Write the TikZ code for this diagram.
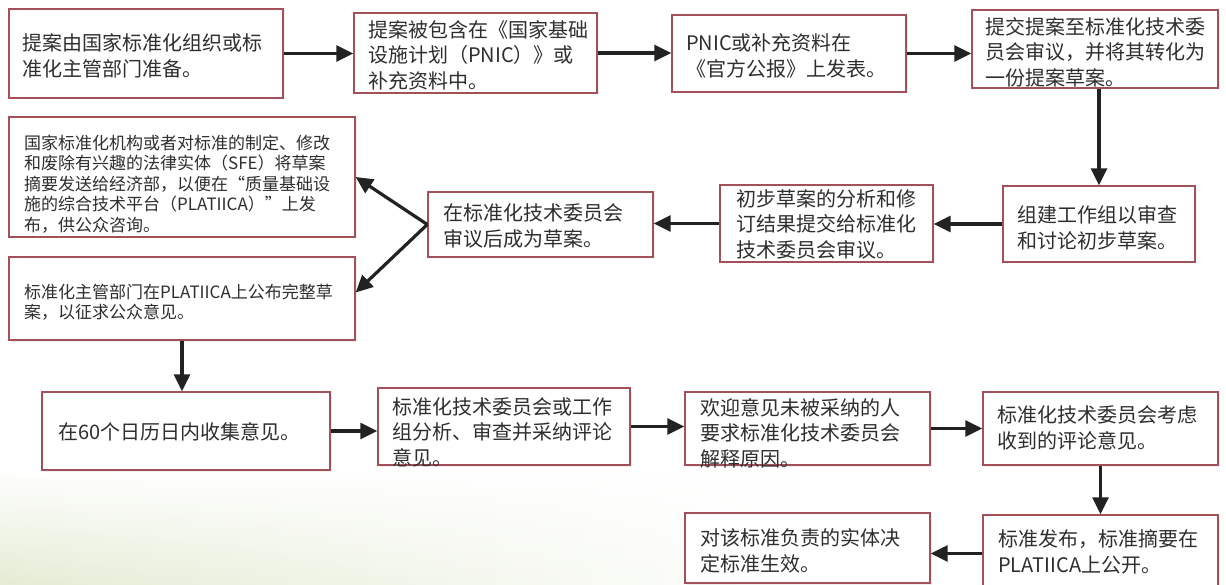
\documentclass[tikz,border=0pt]{standalone}
\usepackage{fontspec}
\setmainfont{Noto Sans CJK SC}
\usetikzlibrary{arrows.meta,calc,shadows,fadings}
\definecolor{bord}{HTML}{A4505A}
\definecolor{ink}{HTML}{2E2E2E}
\definecolor{arrc}{HTML}{222222}
\definecolor{tint}{RGB}{228,236,212}
\tikzset{
 bx/.style={draw=bord, line width=1.4pt, fill=white, inner sep=0pt,
   drop shadow={opacity=0.12, shadow xshift=1.5pt, shadow yshift=-1.5pt}},
 tx/.style={text=ink, font=\fontsize{20}{25.5}\selectfont, align=left, inner sep=0pt, anchor=west},
 txs/.style={tx, font=\fontsize{17}{20.5}\selectfont},
 link/.style={draw=arrc, line width=3.2pt, -{Triangle[length=17pt,width=16pt]}},
}
\newcommand\mkbox[5]{\node[bx, minimum width={#4-#2}, minimum height={#5-#3}] (#1) at ({(#2+#4)/2},{(#3+#5)/2}) {};}
\begin{document}
\begin{tikzpicture}[x=1pt,y=-1pt]
\useasboundingbox (0,0) rectangle (1226,585);
\fill[white] (0,0) rectangle (1226,585);
\shade[left color=tint, right color=white, path fading=north] (0,470) rectangle (820,585);
% boxes
\mkbox{A}{9}{9}{283}{98}
\mkbox{B}{354}{13}{597}{93}
\mkbox{C}{672}{15}{906}{92}
\mkbox{D}{972}{10}{1218}{88}
\mkbox{E}{1003}{186}{1195}{262}
\mkbox{F}{720}{185}{933}{262}
\mkbox{G}{428}{192}{653}{257}
\mkbox{H}{9}{117}{355}{237}
\mkbox{I}{9}{257}{355}{340}
\mkbox{J}{42}{392}{330}{470}
\mkbox{K}{378}{388}{630}{465}
\mkbox{L}{685}{392}{930}{465}
\mkbox{M}{983}{392}{1218}{465}
\mkbox{N}{983}{515}{1218}{592}
\mkbox{O}{685}{513}{930}{583}
% texts
\node[tx] (At) at (22,56) {提案由国家标准化组织或标\\准化主管部门准备。};
\node[tx] (Bt) at (368,55) {提案被包含在《国家基础\\设施计划（PNIC）》或\\补充资料中。};
\node[tx] (Ct) at (686,56) {PNIC或补充资料在\\《官方公报》上发表。};
\node[tx] (Dt) at (985,52) {提交提案至标准化技术委\\员会审议，并将其转化为\\一份提案草案。};
\node[tx] (Et) at (1017,228) {组建工作组以审查\\和讨论初步草案。};
\node[tx] (Ft) at (736,224) {初步草案的分析和修\\订结果提交给标准化\\技术委员会审议。};
\node[tx] (Gt) at (443,226) {在标准化技术委员会\\审议后成为草案。};
\node[txs] (Ht) at (24,184) {国家标准化机构或者对标准的制定、修改\\和废除有兴趣的法律实体（SFE）将草案\\摘要发送给经济部，以便在“质量基础设\\施的综合技术平台（PLATIICA）”上发\\布，供公众咨询。};
\node[txs] (It) at (24,302) {标准化主管部门在PLATIICA上公布完整草\\案，以征求公众意见。};
\node[tx] (Jt) at (58,432) {在60个日历日内收集意见。};
\node[tx] (Kt) at (392,432) {标准化技术委员会或工作\\组分析、审查并采纳评论\\意见。};
\node[tx] (Lt) at (700,433) {欢迎意见未被采纳的人\\要求标准化技术委员会\\解释原因。};
\node[tx] (Mt) at (997,428) {标准化技术委员会考虑\\收到的评论意见。};
\node[tx] (Nt) at (998,552) {标准发布，标准摘要在\\PLATIICA上公开。};
\node[tx] (Ot) at (700,551) {对该标准负责的实体决\\定标准生效。};
% connectors
\draw[link] (A.east) -- (A.east -| B.west);
\draw[link] (B.east) -- (B.east -| C.west);
\draw[link] (C.east) -- (C.east -| D.west);
\draw[link] (D.south -| E.north) -- (E.north);
\draw[link] (E.west) -- (E.west -| F.east);
\draw[link] (F.west) -- (F.west -| G.east);
\draw[link] (G.west) -- (H.east);
\draw[link] (G.west) -- ([yshift=6pt]I.east);
\draw[link] (I.south) -- (I.south |- J.north);
\draw[link] (J.east) -- (J.east -| K.west);
\draw[link] (K.east) -- (K.east -| L.west);
\draw[link] (L.east) -- (L.east -| M.west);
\draw[link] (M.south) -- (M.south |- N.north);
\draw[link] (N.west) -- (N.west -| O.east);
\end{tikzpicture}
\end{document}
